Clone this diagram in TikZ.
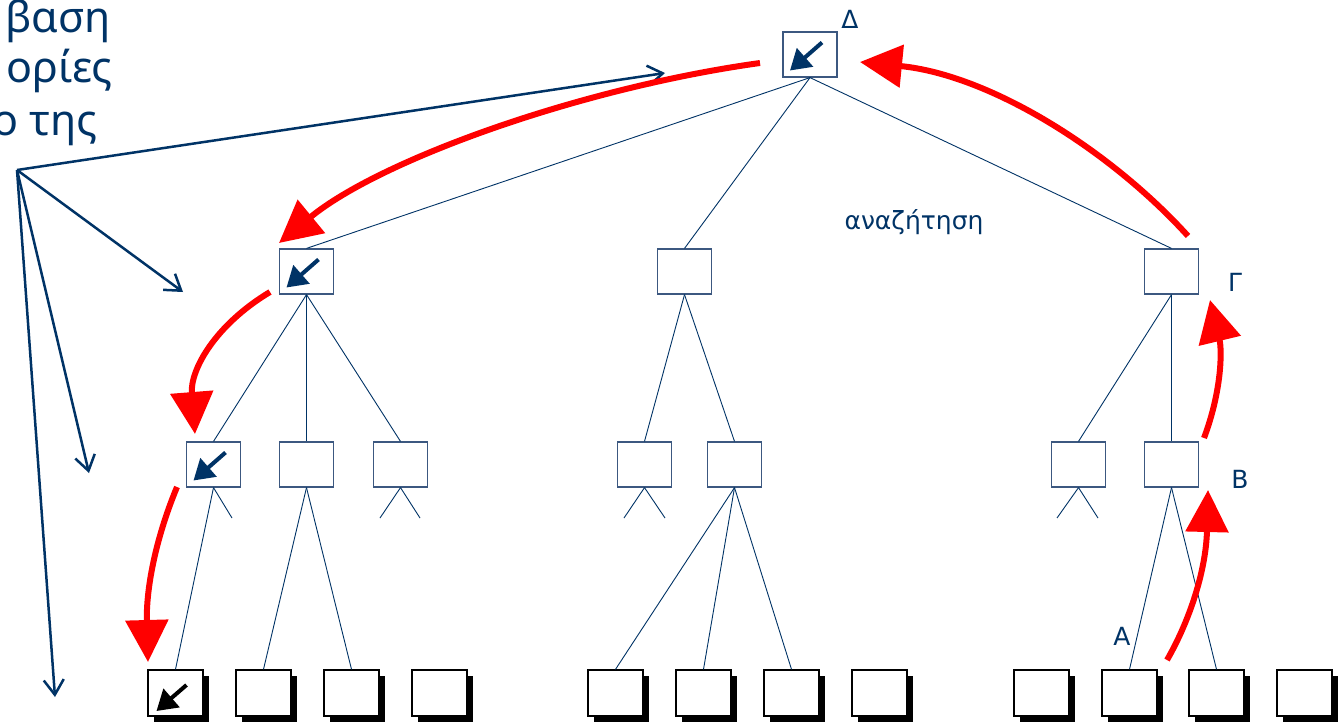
\documentclass[tikz,border=0pt]{standalone}
\usepackage{fontspec}
\setmainfont{DejaVu Sans}
\newfontfamily\bigfont{Noto Sans}
\usetikzlibrary{arrows.meta,shadows}
\definecolor{navy}{RGB}{0,51,102}
\definecolor{boxline}{RGB}{60,88,128}
\definecolor{redarrow}{RGB}{255,0,0}
\begin{document}
\begin{tikzpicture}[x=1pt,y=-1pt,
  tnode/.style={draw=boxline,line width=1.2pt,fill=white,minimum width=54pt,minimum height=45pt,inner sep=0pt},
  leaf/.style={draw=black,line width=1.3pt,fill=white,minimum width=55pt,minimum height=46pt,inner sep=0pt,
    drop shadow={shadow xshift=6pt,shadow yshift=-6pt,fill=black,opacity=1}},
  edge/.style={draw=navy,line width=0.9pt},
  fan/.style={draw=navy,line width=2.5pt,-{Straight Barb[length=15pt,width=20pt,line width=2.5pt]}},
  move/.style={draw=redarrow,line width=6pt,-{Triangle[length=42pt,width=42pt]}},
  pick/.style={line width=4pt,-{Triangle[length=20pt,width=24pt]}},
  lbl/.style={text=navy,font=\fontsize{25}{30}\selectfont,inner sep=0pt},
  bigtxt/.style={text=navy,font=\bigfont\fontsize{43}{50}\selectfont,inner sep=0pt,anchor=base east}]
\useasboundingbox (0,0) rectangle (1341,723);
\clip (0,0) rectangle (1341,723);
\fill[white] (0,0) rectangle (1341,723);

% heading text running in from the left edge
\node[bigtxt] (t1) at (111,32) {βαση};
\node[bigtxt] (t2) at (113,82) {ορίες};
\node[bigtxt] (t3) at (98,135) {ο της};

% tree: root, first and second level
\node[tnode] (r) at (810,54.5) {};
\node[tnode] (a) at (306.5,271.5) {};
\node[tnode] (b) at (684.5,271.5) {};
\node[tnode] (c) at (1171.5,271.5) {};
\node[tnode] (a1) at (213.5,464.5) {};
\node[tnode] (a2) at (306.5,464.5) {};
\node[tnode] (a3) at (400.5,464.5) {};
\node[tnode] (b1) at (644.5,464.5) {};
\node[tnode] (b2) at (734.5,464.5) {};
\node[tnode] (c1) at (1078.5,464.5) {};
\node[tnode] (c2) at (1171.5,464.5) {};

% leaves
\foreach \n/\x in {l1/175.5,l2/263.5,l3/351.5,l4/439.5,m1/615.5,m2/703.5,m3/791.5,m4/879.5,
                   r1/1041.5,r2/1129.5,r3/1216.5,r4/1304.5}
  \node[leaf] (\n) at (\x,693) {};

% branch stubs
\foreach \p/\x in {a1s/232,a3l/380,a3r/420,b1l/624,b1r/665,c1l/1057,c1r/1098}
  \coordinate (\p) at (\x,518);

% tree edges
\foreach \u/\v in {r/a,r/b,r/c,a/a1,a/a2,a/a3,b/b1,b/b2,c/c1,c/c2,
                   a1/l1,a2/l2,a2/l3,b2/m1,b2/m2,b2/m3,c2/r2,c2/r3}
  \draw[edge] (\u.south) -- (\v.north);
\foreach \u/\v in {a1/a1s,a3/a3l,a3/a3r,b1/b1l,b1/b1r,c1/c1l,c1/c1r}
  \draw[edge] (\u.south) -- (\v);

% chosen-move markers inside boxes
\foreach \n in {r,a,a1}
  \draw[pick,navy] ([shift={(12,-12)}]\n.center) -- ([shift={(-20,16)}]\n.center);
\draw[pick,black] ([shift={(11,-8)}]l1.center) -- ([shift={(-19,18)}]l1.center);

% labels
\node[lbl] (lD) at (850,19) {Δ};
\node[lbl] (lS) at (914,222) {αναζήτηση};
\node[lbl] (lG) at (1235,282) {Γ};
\node[lbl] (lB) at (1240,479) {Β};
\node[lbl] (lA) at (1122,636) {Α};

% fan of pointers from the heading
\coordinate (src) at (17,170);
\coordinate (f1) at (665,73);
\coordinate (f2) at (183,292);
\coordinate (f3) at (89,473);
\coordinate (f4) at (55,697);
\foreach \f in {f1,f2,f3,f4}
  \draw[fan] (src) -- (\f);

% value propagation (red arrows)
\coordinate (p1s) at (1167,660); \coordinate (p1e) at (1208,490);
\coordinate (p2s) at (1204,438); \coordinate (p2e) at (1210,300);
\coordinate (p3s) at (1188,236); \coordinate (p3e) at (860,62);
\coordinate (p4s) at (760,63);   \coordinate (p4e) at (279,243);
\coordinate (p5s) at (270,292);  \coordinate (p5e) at (195,434);
\coordinate (p6s) at (177,487);  \coordinate (p6e) at (148,662);
\draw[move] (p1s) .. controls (1190,620) and (1206,570) .. (p1e);
\draw[move] (p2s) .. controls (1222,390) and (1222,350) .. (p2e);
\draw[move] (p3s) .. controls (1110,150) and (990,75) .. (p3e);
\draw[move] (p4s) .. controls (580,88) and (380,160) .. (p4e);
\draw[move] (p5s) .. controls (215,325) and (190,370) .. (p5e);
\draw[move] (p6s) .. controls (155,540) and (146,590) .. (p6e);
\end{tikzpicture}
\end{document}
